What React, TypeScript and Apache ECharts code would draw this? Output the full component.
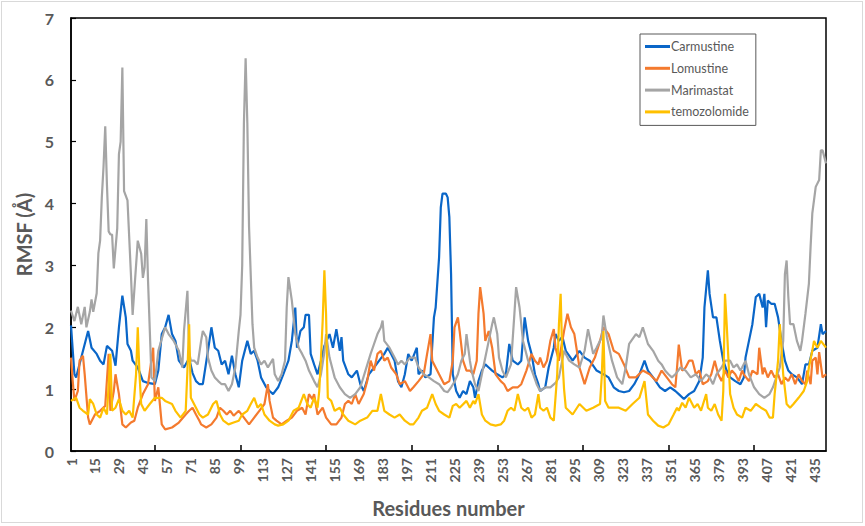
import React, { useEffect, useRef } from "react";
import * as echarts from "echarts";

// Residue categories 1..442 (tick labels are shown every 14 residues: 1, 15, 29, ... 435)
const residues: string[] = Array.from({ length: 442 }, (_, i) => String(i + 1));

const seriesNames = ["Carmustine", "Lomustine", "Marimastat", "temozolomide"];
const seriesColors = ["#0a66c8", "#f47a2e", "#a5a5a5", "#ffc000"];

// [residue, RMSF (Å)]
const carmustine: [number, number][] = [
  [1,2.03],[3,1.24],[4,1.19],[7,1.51],[11,1.94],[13,1.67],[16,1.57],[18,1.46],[20,1.4],[22,1.7],[25,1.62],[27,1.38],[29,2.0],[31,2.51],[33,2.16],[34,1.73],[36,1.62],[37,1.46],[40,1.35],[43,1.13],[46,1.1],[50,1.08],[52,1.3],[54,1.89],[56,2.0],[58,2.2],[60,1.89],[62,1.78],[64,1.46],[67,1.35],[70,1.5],
  [72,1.26],[74,1.13],[76,1.08],[78,1.08],[81,1.62],[83,2.0],[85,1.67],[87,1.62],[89,1.4],[91,1.46],[93,1.24],[95,1.54],[97,1.24],[99,1.03],[101,1.46],[104,1.78],[106,1.57],[108,1.62],[110,1.46],[112,1.19],[115,1.03],[117,0.97],[119,0.92],[122,1.03],[125,1.24],[128,1.46],[130,1.78],[132,2.32],[133,1.67],[135,1.94],[137,2.0],[138,2.2],[140,2.2],[141,1.57],[143,1.4],[145,1.24],[147,1.46],[149,1.7],
  [152,1.89],[154,1.67],[156,1.97],[158,1.62],[159,1.84],[160,1.46],[163,1.24],[165,1.19],[168,1.3],[170,1.08],[172,0.97],[175,1.24],[178,1.35],[181,1.46],[184,1.57],[186,1.67],[188,1.57],[190,1.46],[192,1.13],[194,1.03],[196,1.24],[198,1.57],[200,1.46],[203,1.67],[204,1.24],[206,1.3],[208,1.19],[211,1.24],[213,2.16],[214,2.32],[216,3.13],[217,3.94],[218,4.16],[220,4.16],[221,4.1],[222,3.78],[223,2.86],[224,1.24],
  [226,0.97],[228,0.86],[230,0.97],[232,0.92],[234,1.13],[236,1.03],[237,0.86],[239,1.13],[241,1.3],[243,1.4],[245,1.35],[247,1.3],[250,1.24],[253,1.19],[255,1.24],[257,1.73],[259,1.46],[262,1.4],[264,1.46],[266,2.16],[268,1.78],[270,1.57],[272,1.24],[274,1.08],[275,0.97],[278,1.03],[280,1.35],[283,1.67],[284,1.89],[286,1.78],[288,1.85],[290,1.62],[294,1.46],[298,1.62],
  [301,1.51],[304,1.46],[308,1.3],[312,1.24],[315,1.19],[318,1.03],[321,0.97],[324,0.95],[327,0.97],[330,1.08],[333,1.24],[336,1.46],[338,1.3],[341,1.19],[345,1.03],[348,0.97],[351,1.03],[354,0.97],[356,0.92],[359,0.84],[362,0.92],[365,0.97],[368,1.13],[370,1.51],[371,2.32],[373,2.92],[374,2.54],[376,2.16],[378,2.16],[380,1.78],[382,1.46],[384,1.3],[386,1.19],[389,1.13],[392,1.08],[394,1.19],[395,1.51],[397,1.78],[399,2.05],
  [401,2.49],[403,2.54],[405,2.32],[406,2.54],[407,2.0],[408,2.43],[410,2.38],[412,2.38],[414,2.16],[416,1.78],[418,1.46],[420,1.3],[422,1.24],[425,1.19],[428,1.08],[430,1.4],[432,1.4],[434,1.62],[437,1.67],[439,2.05],[440,1.89],[442,1.94],
];

const lomustine: [number, number][] = [
  [1,1.51],[2,1.13],[3,0.81],[5,0.97],[6,1.46],[8,1.54],[9,1.24],[11,0.54],[12,0.43],[15,0.59],[18,0.65],[21,0.73],[23,1.57],[24,0.65],[26,0.97],[27,1.24],[29,0.92],[31,0.43],[33,0.38],[36,0.46],[38,0.49],[40,0.7],[43,0.92],[46,1.08],[49,1.67],[50,0.81],[52,1.03],[54,0.43],[56,0.35],[60,0.38],[64,0.46],[68,0.59],[70,0.65],
  [72,0.7],[74,0.59],[76,0.49],[77,0.43],[80,0.38],[83,0.43],[86,0.54],[88,0.7],[90,0.65],[92,0.59],[94,0.65],[96,0.57],[99,0.65],[102,0.54],[105,0.43],[108,0.54],[111,0.65],[114,0.76],[116,1.08],[117,0.81],[119,0.54],[121,0.49],[124,0.43],[127,0.49],[130,0.54],[133,0.65],[136,0.7],[138,0.59],[140,0.92],[142,0.84],[143,0.92],[145,0.59],[148,0.7],
  [150,0.54],[153,0.43],[156,0.43],[159,0.54],[161,0.76],[163,0.81],[165,0.76],[167,0.92],[169,0.76],[172,0.92],[174,1.13],[176,1.46],[178,1.3],[180,1.57],[182,1.62],[184,1.46],[186,1.51],[188,1.35],[191,1.24],[193,1.08],[196,1.13],[199,0.97],[201,1.03],[204,1.13],[207,1.24],[209,1.57],[211,1.89],[212,1.46],[214,1.35],[216,1.24],[219,1.08],[222,1.13],
  [224,1.46],[225,2.0],[227,2.16],[228,1.94],[230,1.46],[232,1.3],[234,1.3],[236,1.24],[238,1.46],[239,2.22],[240,2.65],[242,2.22],[243,1.78],[245,1.94],[247,1.67],[249,1.24],[252,1.13],[254,1.08],[256,0.97],[259,1.03],[262,1.03],[264,1.08],[267,1.3],[270,1.57],[272,1.46],[274,1.4],[275,1.51],[277,1.35],[279,1.46],[281,1.78],[283,1.97],[284,1.67],[286,1.46],[289,1.94],[291,2.22],[293,2.0],[295,1.89],[298,1.35],
  [301,1.08],[304,1.35],[307,1.51],[310,1.78],[312,2.0],[315,1.89],[318,1.62],[321,1.57],[324,1.4],[327,1.19],[331,1.19],[335,1.3],[339,1.24],[343,1.13],[346,1.3],[349,1.19],[352,1.08],[354,1.03],[355,1.35],[356,1.72],[357,1.51],[358,1.3],[360,1.35],[362,1.46],[364,1.46],[366,1.24],[368,1.3],[370,1.08],[373,1.13],[375,1.24],[377,1.46],[379,1.24],[381,1.13],[383,1.3],[385,1.19],[387,1.3],[389,1.24],[391,1.13],[393,1.3],[394,1.24],[397,1.13],[399,1.3],
  [402,1.24],[403,1.67],[405,1.24],[406,1.35],[408,1.19],[410,1.3],[412,1.19],[414,1.24],[416,1.08],[418,1.19],[420,1.13],[422,1.24],[424,1.08],[426,1.24],[428,1.13],[430,1.08],[431,1.3],[433,1.08],[434,1.46],[436,1.51],[437,1.24],[438,1.6],[440,1.19],[442,1.24],
];

const marimastat: [number, number][] = [
  [1,2.27],[3,2.1],[5,2.33],[7,2.05],[9,2.33],[10,2.0],[12,2.25],[13,2.45],[14,2.25],[16,2.55],[17,3.2],[18,3.4],[19,4.1],[20,4.6],[21,5.25],[22,4.3],[23,3.55],[24,3.5],[25,3.5],[26,2.95],[28,3.6],[29,4.8],[30,5.0],[31,6.2],[32,4.2],[34,4.05],[36,2.86],[37,2.2],[40,3.4],[42,3.19],[43,2.8],[44,2.97],[45,3.75],[46,2.75],[48,1.19],[50,1.13],[52,1.62],[56,2.0],[58,1.89],[61,1.78],[64,1.62],[66,1.35],[67,1.94],[69,2.59],[70,1.6],
  [71,1.46],[73,1.46],[75,1.4],[77,1.78],[78,1.94],[80,1.84],[81,1.51],[83,1.3],[85,1.19],[87,1.13],[89,1.08],[91,1.08],[93,0.97],[95,1.08],[97,1.35],[99,1.94],[100,2.2],[101,3.0],[102,5.3],[103,6.35],[104,5.3],[105,3.62],[107,2.05],[108,1.67],[110,1.51],[112,1.4],[114,1.46],[116,1.35],[119,1.49],[120,1.24],[122,1.13],[124,1.24],[126,1.46],[127,2.32],[128,2.81],[130,2.43],[132,1.89],[134,1.67],[136,1.57],[138,1.46],[140,1.3],[143,1.13],[145,1.03],[147,1.24],[149,1.6],
  [150,1.89],[152,1.51],[155,1.19],[158,1.03],[161,0.92],[164,0.86],[167,0.92],[170,1.03],[173,1.3],[176,1.57],[178,1.73],[180,1.89],[182,2.0],[183,2.11],[184,1.78],[187,1.67],[190,1.51],[192,1.4],[194,1.46],[196,1.4],[199,1.51],[202,1.51],[204,1.35],[207,1.24],[210,1.19],[213,1.13],[216,1.08],[219,0.97],[221,0.95],[223,1.03],
  [225,1.12],[227,1.24],[229,1.46],[231,1.57],[232,1.89],[234,1.46],[235,1.3],[237,1.08],[239,0.97],[241,1.24],[243,1.51],[245,1.78],[247,2.05],[248,2.16],[250,1.89],[251,1.51],[253,1.3],[255,1.19],[258,1.4],[260,2.22],[261,2.65],[263,2.32],[265,1.78],[268,1.46],[271,1.24],[273,1.08],[275,0.97],[278,1.03],[281,1.03],[284,1.1],[286,1.19],[289,1.62],[292,1.46],[295,1.4],[298,1.35],
  [301,1.62],[303,1.97],[306,1.57],[308,1.67],[311,1.84],[312,2.19],[314,1.84],[317,1.46],[320,1.19],[323,1.08],[325,1.35],[327,1.73],[331,1.89],[333,1.84],[335,2.0],[338,1.73],[341,1.62],[344,1.46],[346,1.4],[348,1.3],[350,1.24],[352,1.19],[354,1.24],[357,1.35],[360,1.3],[363,1.19],[366,1.24],[369,1.13],[372,1.24],[374,1.19],[376,1.08],[378,1.24],[381,1.35],[383,1.46],[386,1.46],[388,1.35],[390,1.4],[392,1.3],[393,1.35],[395,1.46],[397,1.24],
  [400,1.03],[403,0.92],[406,0.86],[409,0.92],[411,1.03],[413,1.19],[415,1.35],[417,1.78],[418,2.86],[419,3.08],[420,2.49],[421,2.05],[423,2.05],[425,1.78],[427,1.62],[428,1.78],[430,2.22],[432,2.7],[433,3.3],[434,3.84],[436,4.27],[438,4.38],[439,4.86],[440,4.86],[442,4.65],
];

const temozolomide: [number, number][] = [
  [1,0.81],[4,0.86],[6,0.7],[8,0.65],[11,0.59],[12,0.84],[14,0.76],[16,0.59],[18,0.54],[20,0.7],[22,0.59],[23,1.08],[24,1.57],[25,0.65],[27,0.7],[29,0.84],[31,0.65],[33,0.59],[35,0.65],[37,0.54],[39,1.24],[40,2.0],[41,1.24],[42,0.76],[44,0.65],[47,0.76],[50,0.86],[54,0.86],[56,0.81],[60,0.76],[62,0.65],[65,0.54],[68,0.65],[69,1.3],[70,2.05],
  [71,0.86],[74,0.7],[76,0.59],[78,0.54],[81,0.59],[84,0.76],[86,0.81],[88,0.59],[90,0.49],[93,0.43],[96,0.46],[99,0.49],[101,0.59],[104,0.65],[106,0.76],[108,0.86],[110,0.7],[112,0.76],[114,0.59],[117,0.49],[120,0.43],[122,0.41],[125,0.43],[128,0.49],[131,0.65],[134,0.7],[137,0.92],[139,0.76],[141,0.7],[143,0.86],[145,0.7],[146,0.97],[147,1.5],[148,2.1],[149,2.92],[150,2.2],
  [151,0.86],[153,0.81],[155,0.65],[158,0.7],[160,0.59],[163,0.49],[167,0.43],[170,0.49],[174,0.54],[177,0.65],[180,0.65],[182,0.92],[184,0.65],[187,0.59],[190,0.54],[193,0.59],[196,0.49],[199,0.43],[201,0.43],[204,0.54],[206,0.65],[209,0.7],[212,0.92],[214,0.76],[216,0.65],[219,0.59],[222,0.54],[224,0.73],
  [226,0.76],[228,0.7],[232,0.81],[234,0.7],[236,0.81],[237,0.76],[239,0.92],[241,0.59],[243,0.49],[246,0.43],[249,0.41],[252,0.43],[254,0.49],[256,0.65],[258,0.7],[260,0.65],[262,0.92],[264,0.7],[266,0.65],[268,0.7],[270,0.54],[272,0.59],[274,0.92],[275,0.7],[277,0.65],[279,0.7],[281,0.54],[283,0.49],[285,1.24],[286,2.05],[287,2.54],[288,1.5],[289,1.0],[290,0.7],[294,0.59],[298,0.76],
  [302,0.65],[306,0.7],[310,0.76],[311,1.2],[312,1.94],[313,0.81],[315,0.7],[317,0.7],[321,0.7],[325,0.65],[329,0.76],[333,0.86],[336,1.13],[338,0.59],[341,0.49],[344,0.41],[347,0.38],[350,0.43],[353,0.59],[355,0.7],[356,0.65],[358,0.78],[360,0.7],[362,0.86],[365,0.7],[367,0.76],[369,0.65],[372,0.92],[373,0.7],[375,0.65],[377,0.76],[379,0.59],[381,0.49],[382,0.97],[383,2.54],[384,2.05],[386,0.92],[388,0.7],[390,0.59],[393,0.54],[395,0.7],[398,0.65],
  [401,0.76],[404,0.7],[407,0.65],[409,0.54],[411,0.54],[412,0.92],[414,1.46],[415,2.05],[417,1.24],[419,0.76],[421,0.7],[423,0.76],[426,0.86],[429,0.97],[431,1.13],[432,1.35],[434,1.62],[435,1.78],[437,1.67],[439,1.78],[442,1.67],
];

const allSeries = [carmustine, lomustine, marimastat, temozolomide];

const FONT = "Lato, 'Noto Sans', 'DejaVu Sans', sans-serif";
const TEXT = "#595959";

export default function App() {
  const ref = useRef<HTMLDivElement>(null);

  useEffect(() => {
    if (!ref.current) return;
    const chart = echarts.init(ref.current, undefined, { renderer: "svg" });
    chart.setOption({
      animation: false,
      backgroundColor: "transparent",
      textStyle: { fontFamily: FONT },
      grid: {
        left: 71,
        right: 39,
        top: 18,
        bottom: 75,
        show: true,
        borderColor: "#000",
        borderWidth: 1.5,
        backgroundColor: "transparent",
      },
      legend: {
        orient: "vertical",
        left: 640,
        top: 34,
        padding: [6, 7, 7, 5],
        itemGap: 8.8,
        itemWidth: 25,
        itemHeight: 3,
        icon: "rect",
        borderColor: "#595959",
        borderWidth: 1,
        backgroundColor: "#fff",
        textStyle: { color: TEXT, fontSize: 12.5, fontFamily: FONT, padding: [0, 0, 0, -4] },
        data: seriesNames,
      },
      xAxis: {
        type: "category",
        data: residues,
        boundaryGap: false,
        axisLine: { show: true, lineStyle: { color: "#000", width: 1.5 } },
        axisTick: {
          show: true,
          inside: true,
          length: 6,
          interval: (i: number) => (i + 1) % 50 === 0,
          lineStyle: { color: "#000", width: 1.5 },
        },
        axisLabel: {
          interval: 13,
          rotate: 90,
          color: TEXT,
          fontWeight: "bold",
          fontSize: 14,
          margin: 7,
          fontFamily: FONT,
        },
        splitLine: { show: false },
        name: "Residues number",
        nameLocation: "middle",
        nameGap: 47,
        nameTextStyle: { fontSize: 20, fontWeight: "bold", color: TEXT, fontFamily: FONT, verticalAlign: "top" },
      },
      yAxis: {
        type: "value",
        min: 0,
        max: 7,
        interval: 1,
        axisLine: { show: true, lineStyle: { color: "#000", width: 1.5 } },
        axisTick: { show: true, inside: true, length: 5, lineStyle: { color: "#000", width: 1.2 } },
        axisLabel: { color: TEXT, fontWeight: "bold", fontSize: 16, margin: 17, fontFamily: FONT },
        splitLine: { show: false },
        name: "RMSF (Å)",
        nameLocation: "middle",
        nameGap: 36,
        nameTextStyle: { fontSize: 20, fontWeight: "bold", color: TEXT, fontFamily: FONT },
      },
      series: allSeries.map((d, k) => ({
        name: seriesNames[k],
        type: "line",
        symbol: "none",
        showSymbol: false,
        color: seriesColors[k],
        lineStyle: { color: seriesColors[k], width: 2.2 },
        data: d.map(([r, v]) => [r - 1, v]),
      })),
    });
    return () => chart.dispose();
  }, []);

  return (
    <div style={{ position: "fixed", left: 0, top: 0, width: 865, height: 526, background: "#fff" }}>
      <div
        style={{
          position: "absolute",
          left: 1,
          top: 1,
          width: 862,
          height: 522,
          border: "1px solid #d9d9d9",
          boxSizing: "border-box",
        }}
      />
      <div ref={ref} style={{ position: "absolute", left: 0, top: 0, width: 865, height: 526 }} />
    </div>
  );
}
